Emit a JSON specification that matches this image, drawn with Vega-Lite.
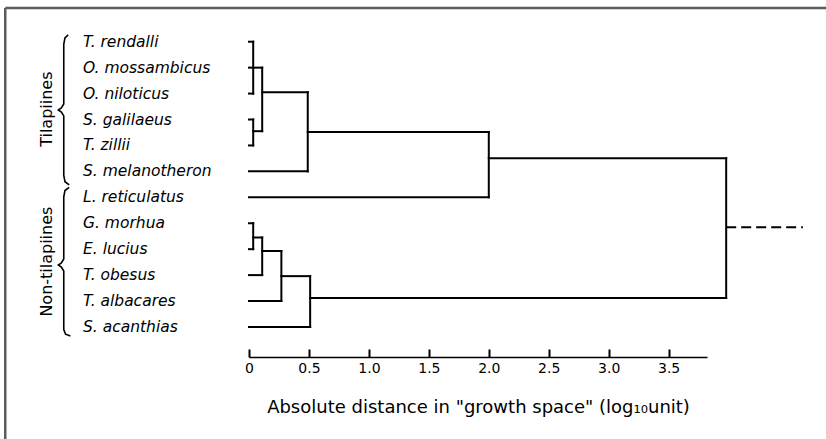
{
  "$schema": "https://vega.github.io/schema/vega-lite/v6.json",
  "width": 458,
  "height": 349,
  "autosize": {"type": "none"},
  "padding": {"left": 249, "top": 8, "right": 119, "bottom": 82},
  "background": "white",
  "config": {
    "view": {"stroke": null},
    "font": "DejaVu Sans"
  },
  "encoding": {
    "x": {
      "field": "x", "type": "quantitative",
      "scale": {"domain": [0, 3.82], "nice": false, "zero": false},
      "axis": {
        "values": [0, 0.5, 1, 1.5, 2, 2.5, 3, 3.5],
        "labelExpr": "datum.value == 0 ? '0' : format(datum.value, '.1f')",
        "grid": false,
        "tickSize": -8,
        "tickColor": "black",
        "tickWidth": 2,
        "domainColor": "black",
        "domainWidth": 1.5,
        "labelFontSize": 14,
        "labelColor": "black",
        "labelPadding": 12,
        "labelFlush": false,
        "title": "Absolute distance in \"growth space\" (log₁₀unit)",
        "titleFontSize": 18,
        "titleFontWeight": "normal",
        "titleColor": "black",
        "titlePadding": 23
      }
    },
    "y": {
      "field": "y", "type": "quantitative",
      "scale": {"domain": [-1.3, 12.158], "nice": false, "zero": false, "reverse": true},
      "axis": null
    }
  },
  "layer": [
    {
      "data": {"values": [
        {"x": -2.033, "x2": -2.033, "y": -1.3, "y2": 16},
        {"x": -2.033, "x2": 5.2, "y": -1.3, "y2": -1.3}
      ]},
      "mark": {"type": "rule", "color": "#5c5c5c", "strokeWidth": 2.5},
      "encoding": {
        "x2": {"field": "x2"},
        "y2": {"field": "y2"}
      }
    },
    {
      "data": {"values": [
        {"x": 0, "x2": 0.035, "y": 0, "y2": 0},
        {"x": 0, "x2": 0.11, "y": 1, "y2": 1},
        {"x": 0, "x2": 0.035, "y": 2, "y2": 2},
        {"x": 0.035, "x2": 0.035, "y": 0, "y2": 2},
        {"x": 0.11, "x2": 0.11, "y": 1, "y2": 3.45},
        {"x": 0, "x2": 0.035, "y": 3, "y2": 3},
        {"x": 0, "x2": 0.035, "y": 4, "y2": 4},
        {"x": 0.035, "x2": 0.035, "y": 3, "y2": 4},
        {"x": 0.035, "x2": 0.11, "y": 3.45, "y2": 3.45},
        {"x": 0.11, "x2": 0.49, "y": 1.95, "y2": 1.95},
        {"x": 0, "x2": 0.49, "y": 5, "y2": 5},
        {"x": 0.49, "x2": 0.49, "y": 1.95, "y2": 5},
        {"x": 0.49, "x2": 2.0, "y": 3.48, "y2": 3.48},
        {"x": 0, "x2": 2.0, "y": 6, "y2": 6},
        {"x": 2.0, "x2": 2.0, "y": 3.48, "y2": 6},
        {"x": 2.0, "x2": 3.98, "y": 4.49, "y2": 4.49},
        {"x": 0, "x2": 0.035, "y": 7, "y2": 7},
        {"x": 0, "x2": 0.035, "y": 8, "y2": 8},
        {"x": 0.035, "x2": 0.035, "y": 7, "y2": 8},
        {"x": 0.035, "x2": 0.11, "y": 7.55, "y2": 7.55},
        {"x": 0, "x2": 0.11, "y": 9, "y2": 9},
        {"x": 0.11, "x2": 0.11, "y": 7.55, "y2": 9},
        {"x": 0.11, "x2": 0.27, "y": 8.07, "y2": 8.07},
        {"x": 0, "x2": 0.27, "y": 10, "y2": 10},
        {"x": 0.27, "x2": 0.27, "y": 8.07, "y2": 10},
        {"x": 0.27, "x2": 0.51, "y": 9.04, "y2": 9.04},
        {"x": 0, "x2": 0.51, "y": 11, "y2": 11},
        {"x": 0.51, "x2": 0.51, "y": 9.04, "y2": 11},
        {"x": 0.51, "x2": 3.98, "y": 9.88, "y2": 9.88},
        {"x": 3.98, "x2": 3.98, "y": 4.49, "y2": 9.88}
      ]},
      "mark": {"type": "rule", "color": "black", "strokeWidth": 2, "strokeCap": "square"},
      "encoding": {
        "x2": {"field": "x2"},
        "y2": {"field": "y2"}
      }
    },
    {
      "data": {"values": [
        {"x": 3.98, "x2": 4.62, "y": 7.15, "y2": 7.15}
      ]},
      "mark": {"type": "rule", "color": "black", "strokeWidth": 2, "strokeDash": [10, 5]},
      "encoding": {
        "x2": {"field": "x2"},
        "y2": {"field": "y2"}
      }
    },
    {
      "data": {"values": [
        {"species": "T. rendalli", "y": 0, "x": 0},
        {"species": "O. mossambicus", "y": 1, "x": 0},
        {"species": "O. niloticus", "y": 2, "x": 0},
        {"species": "S. galilaeus", "y": 3, "x": 0},
        {"species": "T. zillii", "y": 4, "x": 0},
        {"species": "S. melanotheron", "y": 5, "x": 0},
        {"species": "L. reticulatus", "y": 6, "x": 0},
        {"species": "G. morhua", "y": 7, "x": 0},
        {"species": "E. lucius", "y": 8, "x": 0},
        {"species": "T. obesus", "y": 9, "x": 0},
        {"species": "T. albacares", "y": 10, "x": 0},
        {"species": "S. acanthias", "y": 11, "x": 0}
      ]},
      "mark": {"type": "text", "align": "left", "baseline": "middle", "fontSize": 15.5, "fontStyle": "italic", "color": "black", "dx": -166},
      "encoding": {
        "text": {"field": "species"}
      }
    },
    {
      "data": {"values": [
        {"group": "Tilapiines", "y": 2.6, "x": 0},
        {"group": "Non-tilapiines", "y": 8.48, "x": 0}
      ]},
      "mark": {"type": "text", "align": "center", "baseline": "middle", "angle": 270, "fontSize": 16, "color": "black", "dy": -202},
      "encoding": {
        "text": {"field": "group"}
      }
    },
    {
      "data": {"values": [
        {"brace": "Tilapiines", "order": 1, "x": -1.508, "y": -0.27},
        {"brace": "Tilapiines", "order": 2, "x": -1.535, "y": -0.15},
        {"brace": "Tilapiines", "order": 3, "x": -1.545, "y": 0.1},
        {"brace": "Tilapiines", "order": 4, "x": -1.545, "y": 2.4},
        {"brace": "Tilapiines", "order": 5, "x": -1.565, "y": 2.55},
        {"brace": "Tilapiines", "order": 6, "x": -1.59, "y": 2.63},
        {"brace": "Tilapiines", "order": 7, "x": -1.565, "y": 2.71},
        {"brace": "Tilapiines", "order": 8, "x": -1.545, "y": 2.86},
        {"brace": "Tilapiines", "order": 9, "x": -1.545, "y": 5.15},
        {"brace": "Tilapiines", "order": 10, "x": -1.535, "y": 5.4},
        {"brace": "Tilapiines", "order": 11, "x": -1.5, "y": 5.52},
        {"brace": "Non-tilapiines", "order": 1, "x": -1.5, "y": 5.62},
        {"brace": "Non-tilapiines", "order": 2, "x": -1.535, "y": 5.74},
        {"brace": "Non-tilapiines", "order": 3, "x": -1.545, "y": 5.98},
        {"brace": "Non-tilapiines", "order": 4, "x": -1.545, "y": 8.38},
        {"brace": "Non-tilapiines", "order": 5, "x": -1.565, "y": 8.53},
        {"brace": "Non-tilapiines", "order": 6, "x": -1.59, "y": 8.61},
        {"brace": "Non-tilapiines", "order": 7, "x": -1.565, "y": 8.69},
        {"brace": "Non-tilapiines", "order": 8, "x": -1.545, "y": 8.84},
        {"brace": "Non-tilapiines", "order": 9, "x": -1.545, "y": 11.1},
        {"brace": "Non-tilapiines", "order": 10, "x": -1.53, "y": 11.28},
        {"brace": "Non-tilapiines", "order": 11, "x": -1.49, "y": 11.35}
      ]},
      "mark": {"type": "line", "color": "black", "strokeWidth": 1.6},
      "encoding": {
        "detail": {"field": "brace", "type": "nominal"},
        "order": {"field": "order", "type": "quantitative"}
      }
    }
  ]
}
